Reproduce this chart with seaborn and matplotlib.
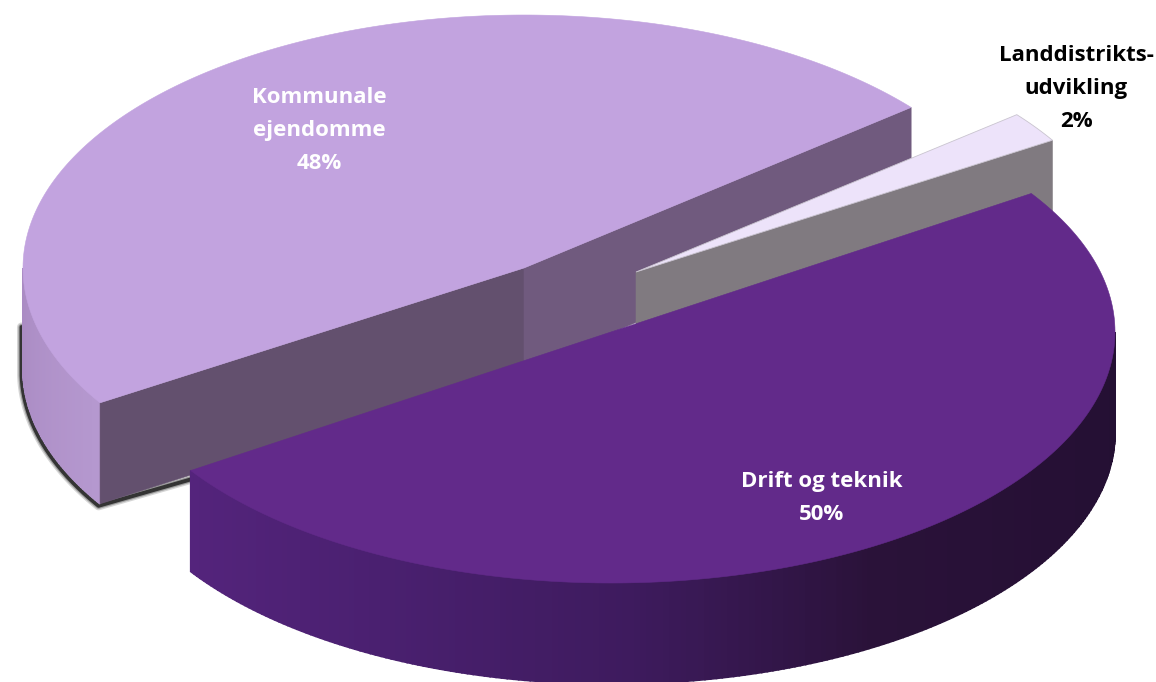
import numpy as np
import matplotlib
matplotlib.use("Agg")
import matplotlib.pyplot as plt
import seaborn as sns

# Data
categories = ["Drift og teknik", "Kommunale\nejendomme", "Landdistrikts-\nudvikling"]
values = [50, 48, 2]

# Style and layout of the exploded, tilted pie
start_angle = 33.5
centers = [(611, 332), (524, 268), (636, 272)]
radii = [(504, 251), (501, 253), (490, 250)]
depths = [101, 101, 101]
twists = [0, -1.3, -1.7]
top_colors = ["#622A8A", "#C2A3DF", "#EDE3FA"]
wall_colors = [None, ("#63506E", "#705A7E"), ("#807A80", "#807A80")]
side_ramps = [["#54247C", "#4A2070", "#3E1B5E", "#2A1239", "#261035", "#241033"],
              ["#A98AC2", "#B598CF"], ["#807A80", "#807A80"]]
label_pos = [(822, 487), (319, 103), (1076, 61)]
label_colors = ["white", "white", "black"]
line_pitch = 32.8

sns.set_theme(style="white")
plt.rcParams["font.family"] = ["Open Sans", "DejaVu Sans"]

fig, ax = plt.subplots(figsize=(11.56, 6.82), dpi=100)
ax.set_position([0, 0, 1, 1])
ax.set_xlim(0, 1156)
ax.set_ylim(682, 0)
ax.axis("off")

# Angles follow the data, running clockwise from the start angle
spans = 360 * np.array(values) / np.sum(values)
ends = start_angle - np.cumsum(spans)
begins = ends + spans


def arc(i, t0, t1, dy=0.0, n=240):
    t = np.radians(np.linspace(t0, t1, n))
    cx, cy = centers[i]
    rx, ry = radii[i]
    return cx + rx * np.cos(t), cy - ry * np.sin(t) + dy


def draw_side(i, t0, t1, zorder, strips=220):
    ramp = sns.blend_palette(side_ramps[i], n_colors=strips)
    edges = np.linspace(t0, t1, strips + 1)
    for k, c in enumerate(ramp):
        xa, ya = arc(i, edges[k], edges[k + 1], n=4)
        xb, yb = arc(i, edges[k + 1], edges[k], dy=depths[i], n=4)
        ax.fill(np.r_[xa, xb], np.r_[ya, yb], color=c, lw=1.2, zorder=zorder)


def draw_wall(i, t, color, zorder):
    cx, cy = centers[i]
    xe, ye = arc(i, t, t, n=1)
    d = depths[i]
    ax.fill([cx, xe[0], xe[0], cx], [cy, ye[0], ye[0] + d, cy + d],
            color=color, lw=0.4, zorder=zorder)


def draw_top(i, t0, t1, zorder, **kw):
    cx, cy = centers[i]
    x, y = arc(i, t0, t1)
    ax.fill(np.r_[cx, x], np.r_[cy, y], zorder=zorder, **kw)


# Kommunale ejendomme (with its thin dark shadow)
t_corner = begins[1] + twists[1] + 360   # lower-left corner of the slice
t_far = ends[1] + twists[1] + 360        # upper-right corner of the slice
sx, sy = arc(1, 180, t_corner, dy=depths[1])
wall_x, wall_y = arc(0, ends[0], ends[0], n=1)
sxw = np.r_[centers[1][0] - radii[1][0], sx, wall_x[0] + 8]
syw = np.r_[325, sy, wall_y[0] + 5]
for lw, a in [(6.5, 0.18), (4.5, 0.3), (2.8, 0.8)]:
    ax.plot(sxw - 1.5, syw + 2.0, color="#1a1a1a", lw=lw, alpha=a, zorder=1,
            solid_capstyle="round", solid_joinstyle="round")
draw_side(1, 180, t_corner, 2, strips=60)
draw_wall(1, t_corner, wall_colors[1][0], 3)
draw_wall(1, t_far, wall_colors[1][1], 3)
draw_top(1, t_corner, t_far, 4, color=top_colors[1], lw=0.4)

# Landdistriktsudvikling sliver
t_hi2 = begins[2] + 360 + twists[2]
t_lo2 = ends[2] + 360 + twists[2]
draw_wall(2, t_lo2, wall_colors[2][0], 5)
draw_top(2, t_hi2, t_lo2, 6, facecolor=top_colors[2], edgecolor="#C9C4CF", lw=0.6)

# Drift og teknik
draw_side(0, ends[0], 0, 7)
draw_top(0, begins[0], ends[0], 8, color=top_colors[0], lw=0.4)

# Labels
for name, v, (x, y), c in zip(categories, values, label_pos, label_colors):
    for k, line in enumerate(f"{name}\n{v}%".split("\n")):
        ax.text(x, y + k * line_pitch, line, color=c, ha="center", va="baseline",
                fontsize=16, fontweight="bold", zorder=10)

fig.savefig("out.png", dpi=100, facecolor="white")
